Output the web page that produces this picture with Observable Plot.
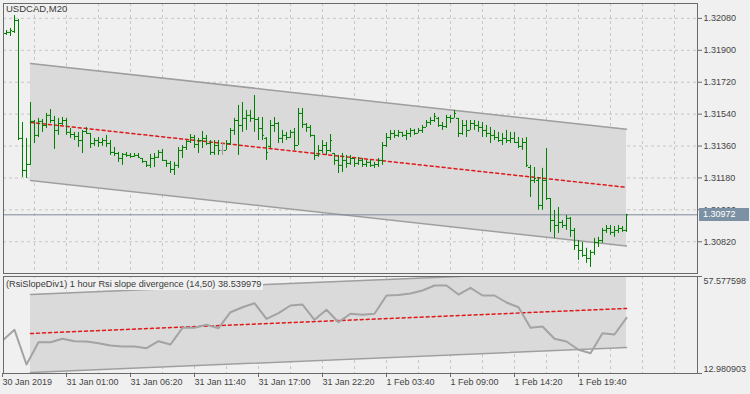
<!DOCTYPE html>
<html><head><meta charset="utf-8">
<script src="https://cdn.jsdelivr.net/npm/d3@7"></script>
<script src="https://cdn.jsdelivr.net/npm/@observablehq/plot@0.6"></script>
<style>
body{margin:0;background:#f0f0f0;}
#wrap{position:relative;width:750px;height:394px;overflow:hidden;background:#f0f0f0;font-family:"Liberation Sans",Arial,sans-serif;}
#wrap svg{display:block;}
.lbl{position:absolute;white-space:nowrap;font-size:9.5px;line-height:12px;color:#3a3a3a;}
</style></head><body><div id="wrap"></div>
<script>
const symbolTitle = "USDCAD,M20";
const rsiTitle = "(RsiSlopeDiv1) 1 hour Rsi slope divergence (14,50) 38.539979";
const lastPrice = 1.30972;

const barHigh = [
1.32012,1.32023,1.32096,1.32074,1.31493,1.31403,1.31606,1.31504,1.31516,1.31510,
1.31544,1.31566,1.31527,1.31516,1.31521,1.31516,1.31459,1.31437,1.31437,1.31448,
1.31465,1.31431,1.31403,1.31408,1.31403,1.31420,1.31391,1.31352,1.31324,1.31318,
1.31324,1.31318,1.31318,1.31318,1.31290,1.31273,1.31313,1.31318,1.31335,1.31341,
1.31279,1.31273,1.31268,1.31352,1.31363,1.31391,1.31425,1.31420,1.31403,1.31442,
1.31420,1.31391,1.31391,1.31391,1.31380,1.31391,1.31459,1.31516,1.31589,1.31606,
1.31561,1.31561,1.31645,1.31521,1.31521,1.31408,1.31504,1.31521,1.31493,1.31448,
1.31437,1.31448,1.31459,1.31572,1.31572,1.31487,1.31476,1.31420,1.31363,1.31391,
1.31380,1.31425,1.31318,1.31307,1.31318,1.31307,1.31307,1.31290,1.31296,1.31290,
1.31279,1.31279,1.31268,1.31290,1.31380,1.31431,1.31448,1.31448,1.31448,1.31437,
1.31448,1.31459,1.31454,1.31459,1.31476,1.31504,1.31521,1.31544,1.31521,1.31493,
1.31533,1.31533,1.31561,1.31516,1.31504,1.31504,1.31504,1.31504,1.31499,1.31493,
1.31476,1.31465,1.31448,1.31437,1.31431,1.31448,1.31437,1.31437,1.31408,1.31403,
1.31408,1.31251,1.31239,1.31183,1.31234,1.31346,1.31064,1.30997,1.31013,1.30940,
1.30969,1.30957,1.30895,1.30827,1.30816,1.30783,1.30771,1.30839,1.30845,1.30895,
1.30912,1.30912,1.30906,1.30912,1.30906,1.30975];
const barLow = [
1.31984,1.31978,1.31995,1.31391,1.31183,1.31177,1.31251,1.31374,1.31408,1.31437,
1.31459,1.31487,1.31341,1.31420,1.31476,1.31420,1.31403,1.31391,1.31352,1.31318,
1.31425,1.31346,1.31358,1.31352,1.31358,1.31352,1.31307,1.31301,1.31268,1.31251,
1.31296,1.31290,1.31296,1.31290,1.31262,1.31239,1.31234,1.31239,1.31290,1.31273,
1.31239,1.31205,1.31194,1.31234,1.31290,1.31335,1.31374,1.31346,1.31318,1.31346,
1.31363,1.31307,1.31307,1.31307,1.31307,1.31335,1.31363,1.31420,1.31307,1.31437,
1.31448,1.31493,1.31437,1.31391,1.31391,1.31279,1.31346,1.31437,1.31374,1.31374,
1.31391,1.31403,1.31335,1.31363,1.31459,1.31437,1.31408,1.31279,1.31296,1.31318,
1.31307,1.31324,1.31251,1.31205,1.31211,1.31234,1.31251,1.31239,1.31251,1.31239,
1.31239,1.31239,1.31234,1.31239,1.31251,1.31352,1.31391,1.31403,1.31408,1.31408,
1.31391,1.31408,1.31420,1.31431,1.31431,1.31465,1.31476,1.31493,1.31465,1.31448,
1.31459,1.31487,1.31516,1.31408,1.31420,1.31408,1.31448,1.31448,1.31437,1.31408,
1.31408,1.31374,1.31391,1.31380,1.31363,1.31374,1.31374,1.31374,1.31346,1.31335,
1.31239,1.31070,1.31149,1.30997,1.30997,1.31053,1.30873,1.30839,1.30867,1.30895,
1.30884,1.30845,1.30771,1.30715,1.30732,1.30698,1.30675,1.30743,1.30788,1.30811,
1.30867,1.30856,1.30845,1.30867,1.30873,1.30873];
const barOpen = [
1.31995,1.32001,1.32006,1.32068,1.31403,1.31222,1.31256,1.31499,1.31420,1.31499,
1.31476,1.31533,1.31504,1.31448,1.31487,1.31504,1.31437,1.31425,1.31414,1.31391,
1.31442,1.31431,1.31374,1.31391,1.31380,1.31391,1.31374,1.31324,1.31318,1.31290,
1.31313,1.31307,1.31301,1.31307,1.31290,1.31273,1.31251,1.31290,1.31296,1.31324,
1.31279,1.31262,1.31228,1.31251,1.31335,1.31352,1.31386,1.31408,1.31369,1.31391,
1.31403,1.31374,1.31324,1.31363,1.31335,1.31335,1.31374,1.31448,1.31504,1.31476,
1.31516,1.31533,1.31516,1.31510,1.31459,1.31403,1.31358,1.31476,1.31487,1.31403,
1.31420,1.31408,1.31437,1.31363,1.31544,1.31482,1.31465,1.31420,1.31307,1.31335,
1.31363,1.31335,1.31318,1.31279,1.31251,1.31279,1.31262,1.31290,1.31262,1.31279,
1.31256,1.31268,1.31251,1.31256,1.31279,1.31363,1.31408,1.31431,1.31420,1.31437,
1.31420,1.31431,1.31448,1.31431,1.31448,1.31465,1.31493,1.31504,1.31516,1.31476,
1.31470,1.31521,1.31516,1.31516,1.31431,1.31476,1.31448,1.31487,1.31476,1.31465,
1.31448,1.31431,1.31420,1.31408,1.31391,1.31403,1.31391,1.31403,1.31380,1.31358,
1.31380,1.31239,1.31166,1.31166,1.31025,1.31166,1.31064,1.30940,1.30912,1.30929,
1.30912,1.30952,1.30884,1.30799,1.30771,1.30743,1.30726,1.30760,1.30816,1.30827,
1.30884,1.30895,1.30873,1.30884,1.30895,1.30884];
const barClose = [
1.32001,1.32012,1.32068,1.31403,1.31222,1.31256,1.31499,1.31420,1.31499,1.31476,
1.31533,1.31504,1.31448,1.31487,1.31504,1.31437,1.31425,1.31414,1.31391,1.31442,
1.31431,1.31374,1.31391,1.31380,1.31391,1.31374,1.31324,1.31318,1.31290,1.31313,
1.31307,1.31301,1.31307,1.31296,1.31273,1.31251,1.31290,1.31296,1.31324,1.31279,
1.31262,1.31228,1.31251,1.31335,1.31352,1.31386,1.31408,1.31369,1.31391,1.31403,
1.31374,1.31324,1.31363,1.31335,1.31335,1.31374,1.31448,1.31504,1.31476,1.31516,
1.31533,1.31516,1.31510,1.31459,1.31420,1.31324,1.31476,1.31487,1.31403,1.31420,
1.31408,1.31437,1.31363,1.31544,1.31482,1.31465,1.31420,1.31307,1.31335,1.31363,
1.31335,1.31391,1.31279,1.31251,1.31279,1.31262,1.31290,1.31262,1.31279,1.31256,
1.31268,1.31251,1.31256,1.31279,1.31363,1.31408,1.31431,1.31420,1.31437,1.31420,
1.31431,1.31448,1.31431,1.31448,1.31465,1.31493,1.31504,1.31527,1.31476,1.31470,
1.31521,1.31516,1.31544,1.31431,1.31476,1.31448,1.31487,1.31476,1.31465,1.31448,
1.31431,1.31420,1.31408,1.31391,1.31403,1.31391,1.31403,1.31380,1.31358,1.31380,
1.31251,1.31166,1.31177,1.31025,1.31166,1.31064,1.30940,1.30912,1.30929,1.30912,
1.30952,1.30884,1.30799,1.30771,1.30743,1.30726,1.30760,1.30816,1.30827,1.30884,
1.30895,1.30873,1.30884,1.30895,1.30884,1.30972];

// regression channel (bar index at start / end)
const chanIdx = [6, 155];
const chanUpper = [1.31826, 1.31454];
const chanMid = [1.31493, 1.31127];
const chanLower = [1.31166, 1.30796];

const priceTicks = [1.32080, 1.31900, 1.31720, 1.31540, 1.31360, 1.31180, 1.31000, 1.30820];
const priceDomain = [1.30641, 1.32164];

// indicator window
const rsiIdx = [-1,2,5,8,11,14,17,20,23,26,29,32,35,38,41,44,47,50,53,56,59,62,65,68,71,74,77,80,83,86,89,92,95,98,101,104,107,110,113,116,119,122,125,128,131,134,137,140,143,146,149,152,155];
const rsiValue = [28.15,33.07,17.12,27.37,27.37,28.93,27.83,27.69,26.91,25.85,25.39,25.39,24.61,27.83,26.31,33.99,33.99,35.37,33.81,41.16,43.46,45.30,38.13,40.70,44.24,44.70,37.67,42.27,36.57,40.43,39.97,40.43,48.84,49.07,49.76,51.14,53.44,53.44,49.30,52.38,48.84,48.84,45.62,43.46,33.99,34.59,28.93,27.69,23.88,22.31,31.51,30.91,38.539979];
const rsiChanUpper = [49.30, 60.80];
const rsiChanMid = [31.37, 42.87];
const rsiChanLower = [13.44, 24.93];
const rsiMin = 12.980903, rsiMax = 57.577598;

const timeTickIdx = [-1, 15, 31, 47, 63, 79, 95, 111, 127, 143];
const timeTickLabels = ["30 Jan 2019","31 Jan 01:00","31 Jan 06:20","31 Jan 11:40","31 Jan 17:00","31 Jan 22:20","1 Feb 03:40","1 Feb 09:00","1 Feb 14:20","1 Feb 19:40"];
const gridIdx = [7,15,23,31,39,47,55,63,71,79,87,95,103,111,119,127,135,143,151,159,167];
const xDomain = [-0.75, 172.75];

const FONT = "'Liberation Sans', Arial, sans-serif";
const GRID = "#c6c6c6", FILL = "#dadada", CHAN = "#9e9e9e", MID = "#e0191b", BAR = "#008000", FRAME = "#6a6a6a";

const bars = barHigh.map((h, i) => ({i, h, l: barLow[i], o: barOpen[i], c: barClose[i]}));
const barColor = d => d.o === d.c ? "#a0a0a0" : BAR;
const channel = chanIdx.map((i, k) => ({i, hi: chanUpper[k], mid: chanMid[k], lo: chanLower[k]}));
const rsiChannel = chanIdx.map((i, k) => ({i, hi: rsiChanUpper[k], mid: rsiChanMid[k], lo: rsiChanLower[k]}));
const rsi = rsiIdx.map((i, k) => ({i, v: rsiValue[k]}));
const labelOf = new Map(timeTickIdx.map((d, k) => [d, timeTickLabels[k]]));

const mainPlot = Plot.plot({
  width: 750, height: 274,
  marginTop: 3, marginLeft: 3, marginRight: 53, marginBottom: 1,
  style: {background: "#f0f0f0", fontFamily: FONT, fontSize: "9px", color: "#444", overflow: "visible"},
  x: {domain: xDomain, axis: null},
  y: {domain: priceDomain, axis: null},
  color: {type: "identity"},
  marks: [
    Plot.ruleY(priceTicks, {stroke: GRID, strokeDasharray: "3,3"}),
    Plot.ruleX(gridIdx, {stroke: GRID, strokeDasharray: "3,3"}),
    Plot.areaY(channel, {x: "i", y1: "lo", y2: "hi", fill: FILL}),
    Plot.line(channel, {x: "i", y: "hi", stroke: CHAN}),
    Plot.line(channel, {x: "i", y: "lo", stroke: CHAN}),
    Plot.line(channel, {x: "i", y: "mid", stroke: MID, strokeDasharray: "3,3"}),
    Plot.ruleY([lastPrice], {stroke: "#7f8d9b"}),
    Plot.ruleX(bars, {x: "i", y1: "l", y2: "h", stroke: barColor}),
    Plot.ruleY(bars, {y: "o", x1: d => d.i - 0.5, x2: "i", stroke: barColor}),
    Plot.ruleY(bars, {y: "c", x1: "i", x2: d => d.i + 0.5, stroke: barColor}),
    Plot.axisY({anchor: "right", label: null, ticks: priceTicks, tickFormat: d3.format(".5f"), tickSize: 4, tickPadding: 2, stroke: FRAME}),
    Plot.frame({stroke: FRAME})
  ]
});

const subPlot = Plot.plot({
  width: 750, height: 120,
  marginTop: 2, marginLeft: 3, marginRight: 53, marginBottom: 21,
  style: {background: "#f0f0f0", fontFamily: FONT, fontSize: "9px", color: "#444", overflow: "visible"},
  x: {domain: xDomain, axis: null},
  y: {domain: [rsiMin, rsiMax], axis: null},
  marks: [
    Plot.ruleX(gridIdx, {stroke: GRID, strokeDasharray: "3,3"}),
    Plot.areaY(rsiChannel, {x: "i", y1: "lo", y2: "hi", fill: FILL, clip: true}),
    Plot.line(rsiChannel, {x: "i", y: "hi", stroke: CHAN, clip: true}),
    Plot.line(rsiChannel, {x: "i", y: "lo", stroke: CHAN, clip: true}),
    Plot.line(rsiChannel, {x: "i", y: "mid", stroke: MID, strokeDasharray: "3,3", clip: true}),
    Plot.line(rsi, {x: "i", y: "v", stroke: "#a3a3a3", strokeWidth: 2, clip: true}),
    Plot.axisX({anchor: "bottom", label: null, ticks: timeTickIdx, tickFormat: d => labelOf.get(d), tickSize: 4, tickPadding: 1, textAnchor: "start", stroke: FRAME}),
    Plot.axisY({anchor: "right", label: null, ticks: [rsiMin, rsiMax], tickFormat: () => "", tickSize: 4, stroke: FRAME}),
    Plot.text([rsiMax], {y: d => d, frameAnchor: "right", dx: 6, dy: 1, textAnchor: "start", lineAnchor: "top", text: d => d3.format(".6f")(d)}),
    Plot.text([rsiMin], {y: d => d, frameAnchor: "right", dx: 6, dy: -2, textAnchor: "start", lineAnchor: "bottom", text: d => d3.format(".6f")(d)}),
    Plot.frame({stroke: FRAME})
  ]
});

const wrap = document.getElementById("wrap");
wrap.appendChild(mainPlot);
wrap.appendChild(subPlot);

function addLabel(text, left, top, extra) {
  const d = document.createElement("div");
  d.className = "lbl";
  d.textContent = text;
  d.style.left = left + "px";
  d.style.top = top + "px";
  Object.assign(d.style, extra || {});
  wrap.appendChild(d);
  return d;
}
addLabel(symbolTitle, 6, 3);
addLabel(rsiTitle, 4, 278, {background: "#f0f0f0", padding: "0 2px", fontSize: "9.2px"});
const yLast = mainPlot.scale("y").apply(lastPrice);
addLabel(d3.format(".5f")(lastPrice), 699, Math.round(yLast) - 6, {background: "#7d91a4", color: "#ffffff", width: "46px", paddingLeft: "4px", height: "13px", lineHeight: "13px", fontSize: "9px"});
</script>
</body></html>
